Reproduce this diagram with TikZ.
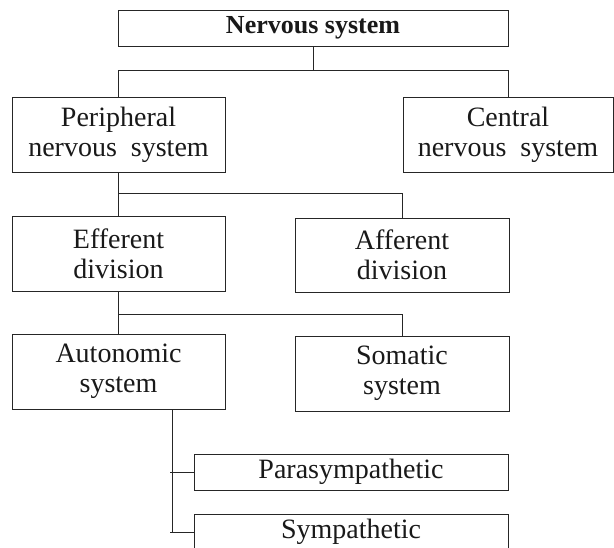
\documentclass[tikz,border=0pt]{standalone}
\usepackage{fontspec}
\setmainfont{Liberation Serif}
\usetikzlibrary{calc}
\begin{document}
\begin{tikzpicture}[x=1pt,y=-1pt,
  box/.style={draw=black!85, line width=1pt, inner sep=0pt, align=center,
    font=\fontsize{28}{30}\selectfont, text=black!90},
  conn/.style={draw=black!85, line width=1pt}]
\useasboundingbox (0,0) rectangle (614,547);
\node[box, minimum width=390pt, minimum height=36pt,
  font=\fontsize{26}{28}\selectfont\bfseries] (ns) at (313,28) {Nervous system};
\node[box, minimum width=213pt, minimum height=75pt] (per) at (118.5,134.5) {Peripheral\\nervous\ \ system};
\node[box, minimum width=210pt, minimum height=75pt] (cen) at (508,134.5) {Central\\nervous\ \ system};
\node[box, minimum width=213pt, minimum height=75pt] (eff) at (118.5,253.5) {Efferent\\division};
\node[box, minimum width=214pt, minimum height=74pt] (aff) at (402,255) {Afferent\\division};
\node[box, minimum width=213pt, minimum height=75pt] (aut) at (118.5,371.5) {Autonomic\\system};
\node[box, minimum width=214pt, minimum height=75pt] (som) at (402,373.5) {Somatic\\system};
\node[box, minimum width=314pt, minimum height=36pt] (para) at (351,472) {Parasympathetic};
\node[box, minimum width=314pt, minimum height=36pt] (symp) at (351,532) {Sympathetic};
\coordinate (h1) at (0,70);
\coordinate (h2) at (0,193);
\coordinate (h3) at (0,314);
\draw[conn] (ns.south) -- (ns.south |- h1);
\draw[conn] (per.north) |- (cen.north |- h1) -- (cen.north);
\draw[conn] (per.south) -- (eff.north);
\draw[conn] (per.south |- h2) -| (aff.north);
\draw[conn] (eff.south) -- (aut.north);
\draw[conn] (eff.south |- h3) -| (som.north);
\coordinate (vt) at ($(aut.south)+(53.5,0)$);
\draw[conn] (vt) -- ++(0,122);
\draw[conn] (para.west) -- ++(-24,0);
\draw[conn] (symp.west) -- ++(-24,0);
\end{tikzpicture}
\end{document}
